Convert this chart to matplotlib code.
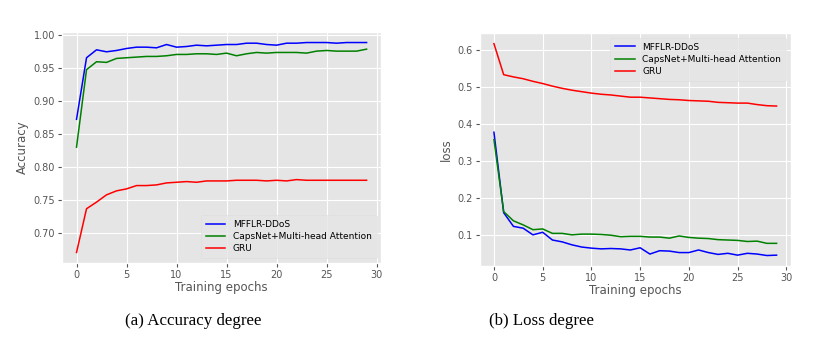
import matplotlib

matplotlib.use("Agg")

import matplotlib.pyplot as plt

epochs = list(range(30))

acc_mfflr = [0.872, 0.965, 0.977, 0.974, 0.976, 0.979, 0.981, 0.981, 0.980, 0.985,
             0.981, 0.982, 0.984, 0.983, 0.984, 0.985, 0.985, 0.987, 0.987, 0.985,
             0.984, 0.987, 0.987, 0.988, 0.988, 0.988, 0.987, 0.988, 0.988, 0.988]
acc_capsnet = [0.830, 0.947, 0.959, 0.958, 0.964, 0.965, 0.966, 0.967, 0.967, 0.968,
               0.970, 0.970, 0.971, 0.971, 0.970, 0.972, 0.968, 0.971, 0.973, 0.972,
               0.973, 0.973, 0.973, 0.972, 0.975, 0.976, 0.975, 0.975, 0.975, 0.978]
acc_gru = [0.671, 0.737, 0.747, 0.758, 0.764, 0.767, 0.772, 0.772, 0.773, 0.776,
           0.777, 0.778, 0.777, 0.779, 0.779, 0.779, 0.780, 0.780, 0.780, 0.779,
           0.780, 0.779, 0.781, 0.780, 0.780, 0.780, 0.780, 0.780, 0.780, 0.780]

loss_mfflr = [0.378, 0.160, 0.123, 0.118, 0.100, 0.107, 0.086, 0.081, 0.073, 0.067,
              0.064, 0.062, 0.063, 0.062, 0.059, 0.065, 0.048, 0.057, 0.056, 0.052,
              0.052, 0.059, 0.052, 0.047, 0.050, 0.045, 0.050, 0.048, 0.044, 0.045]
loss_capsnet = [0.358, 0.163, 0.138, 0.127, 0.114, 0.116, 0.104, 0.104, 0.100, 0.102,
                0.102, 0.101, 0.099, 0.095, 0.096, 0.096, 0.094, 0.094, 0.091, 0.097,
                0.093, 0.091, 0.090, 0.087, 0.086, 0.085, 0.082, 0.083, 0.077, 0.077]
loss_gru = [0.618, 0.534, 0.528, 0.523, 0.516, 0.510, 0.503, 0.497, 0.492, 0.488,
            0.484, 0.481, 0.479, 0.476, 0.473, 0.473, 0.471, 0.469, 0.467, 0.466,
            0.464, 0.463, 0.462, 0.459, 0.458, 0.457, 0.457, 0.453, 0.450, 0.449]

labels = ["MFFLR-DDoS", "CapsNet+Multi-head Attention", "GRU"]
colours = ["blue", "green", "red"]

plt.style.use("ggplot")

fig = plt.figure(figsize=(8.16, 3.52), dpi=100)
ax_acc = fig.add_axes([0.076, 0.253, 0.391, 0.656])
ax_loss = fig.add_axes([0.588, 0.244, 0.381, 0.662])


def style_axes(ax, ylabel):
    ax.set_xlabel("Training epochs", fontsize=8.5, color="#555555", labelpad=1)
    ax.set_ylabel(ylabel, fontsize=8.5, color="#555555", labelpad=3)
    ax.tick_params(labelsize=7, colors="#555555", length=3, pad=2)
    ax.set_xticks([0, 5, 10, 15, 20, 25, 30])


def add_legend(ax, loc):
    ax.legend(loc=loc, fontsize=6.5, facecolor="#e5e5e5", edgecolor="#dddddd",
              handlelength=2.2, borderpad=0.55, labelspacing=0.35)


for series, label, colour in zip([acc_mfflr, acc_capsnet, acc_gru], labels, colours):
    ax_acc.plot(epochs, series, color=colour, linewidth=1.1, label=label)
style_axes(ax_acc, "Accuracy")
ax_acc.set_yticks([0.70, 0.75, 0.80, 0.85, 0.90, 0.95, 1.00])
ax_acc.yaxis.set_major_formatter(matplotlib.ticker.FormatStrFormatter("%.2f"))
add_legend(ax_acc, "lower right")

for series, label, colour in zip([loss_mfflr, loss_capsnet, loss_gru], labels, colours):
    ax_loss.plot(epochs, series, color=colour, linewidth=1.1, label=label)
style_axes(ax_loss, "loss")
ax_loss.set_yticks([0.1, 0.2, 0.3, 0.4, 0.5, 0.6])
add_legend(ax_loss, "upper right")

fig.text(0.237, 0.088, "(a) Accuracy degree", ha="center", va="center",
         fontsize=12.2, family="Liberation Serif", color="black")
fig.text(0.664, 0.088, "(b) Loss degree", ha="center", va="center",
         fontsize=12.2, family="Liberation Serif", color="black")

fig.savefig("out.png", dpi=100)
